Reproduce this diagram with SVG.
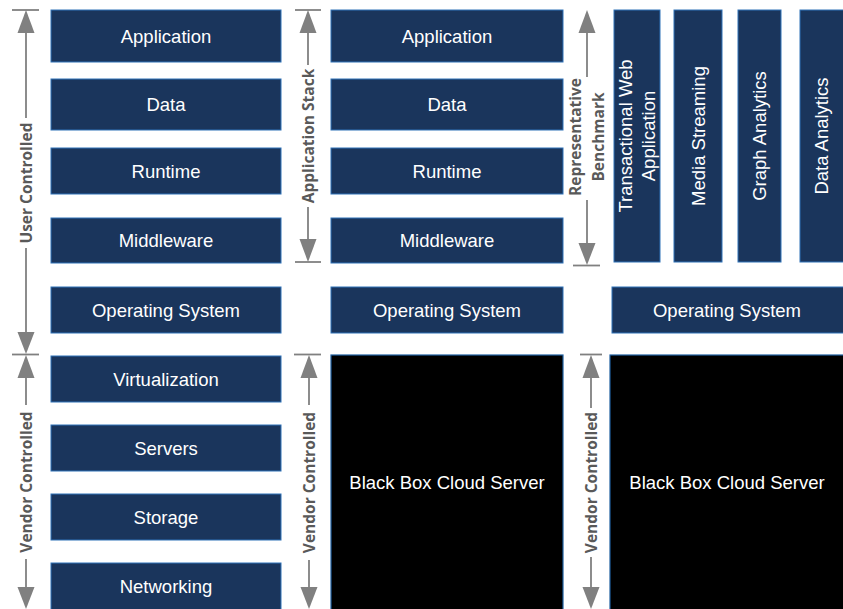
<svg xmlns="http://www.w3.org/2000/svg" width="843" height="609" viewBox="0 0 843 609">
  <style>
    .box { fill: #1a355c; stroke: #2f72b8; stroke-width: 1; }
    .bb { fill: #000000; stroke: #1f5fa0; stroke-width: 1.2; }
    .t { font-family: "Liberation Sans", Arial, sans-serif; font-size: 18.5px; fill: #ffffff; text-anchor: middle; }
    .lbl { font-family: "Open Sans", "Liberation Sans", sans-serif; font-weight: 700; font-size: 15.5px; fill: #595959; text-anchor: middle; }
    .ln { stroke: #808080; stroke-width: 1.8; fill: none; }
    .ah { fill: #808080; }
  </style>

  <!-- Column 1: full stack -->
  <g id="c1-application"><rect class="box" x="51" y="10" width="230" height="52"/><text class="t" x="166" y="42.5">Application</text></g>
  <g id="c1-data"><rect class="box" x="51" y="79" width="230" height="51"/><text class="t" x="166" y="111">Data</text></g>
  <g id="c1-runtime"><rect class="box" x="51" y="148" width="230" height="46"/><text class="t" x="166" y="177.5">Runtime</text></g>
  <g id="c1-middleware"><rect class="box" x="51" y="218" width="230" height="45"/><text class="t" x="166" y="247">Middleware</text></g>
  <g id="c1-os"><rect class="box" x="51" y="287" width="230" height="46"/><text class="t" x="166" y="316.5">Operating System</text></g>
  <g id="c1-virtualization"><rect class="box" x="51" y="356" width="230" height="46"/><text class="t" x="166" y="385.5">Virtualization</text></g>
  <g id="c1-servers"><rect class="box" x="51" y="425" width="230" height="46"/><text class="t" x="166" y="454.5">Servers</text></g>
  <g id="c1-storage"><rect class="box" x="51" y="494" width="230" height="46"/><text class="t" x="166" y="523.5">Storage</text></g>
  <g id="c1-networking"><rect class="box" x="51" y="563" width="230" height="47"/><text class="t" x="166" y="592.5">Networking</text></g>

  <!-- Column 2: application stack on a black box server -->
  <g id="c2-application"><rect class="box" x="331" y="10" width="232" height="52"/><text class="t" x="447" y="42.5">Application</text></g>
  <g id="c2-data"><rect class="box" x="331" y="79" width="232" height="51"/><text class="t" x="447" y="111">Data</text></g>
  <g id="c2-runtime"><rect class="box" x="331" y="148" width="232" height="46"/><text class="t" x="447" y="177.5">Runtime</text></g>
  <g id="c2-middleware"><rect class="box" x="331" y="218" width="232" height="45"/><text class="t" x="447" y="247">Middleware</text></g>
  <g id="c2-os"><rect class="box" x="331" y="287" width="232" height="46"/><text class="t" x="447" y="316.5">Operating System</text></g>
  <g id="c2-blackbox"><rect class="bb" x="331" y="355" width="232" height="256"/><text class="t" x="447" y="488.5">Black Box Cloud Server</text></g>

  <!-- Column 3: benchmarks on a black box server -->
  <g id="c3-transactional"><rect class="box" x="614" y="10" width="46" height="252"/>
    <g transform="translate(637,136) rotate(-90)"><text class="t" x="0" y="-5">Transactional Web</text><text class="t" x="0" y="18">Application</text></g></g>
  <g id="c3-media"><rect class="box" x="674" y="10" width="48" height="252"/>
    <text class="t" transform="translate(698,136) rotate(-90)" x="0" y="6.5">Media Streaming</text></g>
  <g id="c3-graph"><rect class="box" x="738" y="10" width="43" height="252"/>
    <text class="t" transform="translate(759.5,136) rotate(-90)" x="0" y="6.5">Graph Analytics</text></g>
  <g id="c3-dataanalytics"><rect class="box" x="800" y="10" width="45" height="252"/>
    <text class="t" transform="translate(821.5,136) rotate(-90)" x="0" y="6.5">Data Analytics</text></g>
  <g id="c3-os"><rect class="box" x="612" y="287" width="233" height="46"/><text class="t" x="727" y="316.5">Operating System</text></g>
  <g id="c3-blackbox"><rect class="bb" x="610" y="355" width="235" height="256"/><text class="t" x="727" y="488.5">Black Box Cloud Server</text></g>

  <!-- Span arrows -->
  <g id="connectors">
    <!-- User Controlled -->
    <line class="ln" x1="12" y1="10" x2="39" y2="10"/>
    <polygon class="ah" points="26,10 17.5,33 34.5,33"/>
    <line class="ln" x1="26" y1="33" x2="26" y2="118"/>
    <line class="ln" x1="26" y1="248" x2="26" y2="333"/>
    <polygon class="ah" points="26,354 17.5,332 34.5,332"/>
    <line class="ln" x1="12" y1="354.5" x2="39" y2="354.5"/>
    <text class="lbl" transform="translate(26,183) rotate(-90)" x="0" y="5.5">User Controlled</text>

    <!-- Vendor Controlled, column 1 -->
    <polygon class="ah" points="26,355 17.5,378 34.5,378"/>
    <line class="ln" x1="26" y1="378" x2="26" y2="405"/>
    <line class="ln" x1="26" y1="559" x2="26" y2="588"/>
    <polygon class="ah" points="26,609 17.5,587 34.5,587"/>
    <text class="lbl" transform="translate(26,482) rotate(-90)" x="0" y="5.5">Vendor Controlled</text>

    <!-- Application Stack -->
    <line class="ln" x1="295" y1="10" x2="321" y2="10"/>
    <polygon class="ah" points="308,10 299.5,33 316.5,33"/>
    <line class="ln" x1="308" y1="33" x2="308" y2="65"/>
    <line class="ln" x1="308" y1="207" x2="308" y2="240"/>
    <polygon class="ah" points="308,262 299.5,239 316.5,239"/>
    <line class="ln" x1="295" y1="262" x2="321" y2="262"/>
    <text class="lbl" transform="translate(308,136) rotate(-90)" x="0" y="5.5">Application Stack</text>

    <!-- Vendor Controlled, column 2 -->
    <line class="ln" x1="294" y1="354.5" x2="321" y2="354.5"/>
    <polygon class="ah" points="309,355 300.5,378 317.5,378"/>
    <line class="ln" x1="309" y1="378" x2="309" y2="405"/>
    <line class="ln" x1="309" y1="560" x2="309" y2="588"/>
    <polygon class="ah" points="309,609 300.5,587 317.5,587"/>
    <text class="lbl" transform="translate(309,482.5) rotate(-90)" x="0" y="5.5">Vendor Controlled</text>

    <!-- Representative Benchmark -->
    <polygon class="ah" points="587,10 578.5,33 595.5,33"/>
    <line class="ln" x1="587" y1="33" x2="587" y2="77"/>
    <line class="ln" x1="587" y1="200" x2="587" y2="244"/>
    <polygon class="ah" points="587,265 578.5,243 595.5,243"/>
    <line class="ln" x1="573" y1="265.5" x2="600" y2="265.5"/>
    <g transform="translate(587,137) rotate(-90)">
      <text class="lbl" x="0" y="-6">Representative</text>
      <text class="lbl" x="0" y="16.5">Benchmark</text>
    </g>

    <!-- Vendor Controlled, column 3 -->
    <line class="ln" x1="580" y1="354.5" x2="602" y2="354.5"/>
    <polygon class="ah" points="591,355 582.5,378 599.5,378"/>
    <line class="ln" x1="591" y1="378" x2="591" y2="408"/>
    <line class="ln" x1="591" y1="557" x2="591" y2="588"/>
    <polygon class="ah" points="591,609 582.5,587 599.5,587"/>
    <text class="lbl" transform="translate(591,482.5) rotate(-90)" x="0" y="5.5">Vendor Controlled</text>
  </g>
</svg>
